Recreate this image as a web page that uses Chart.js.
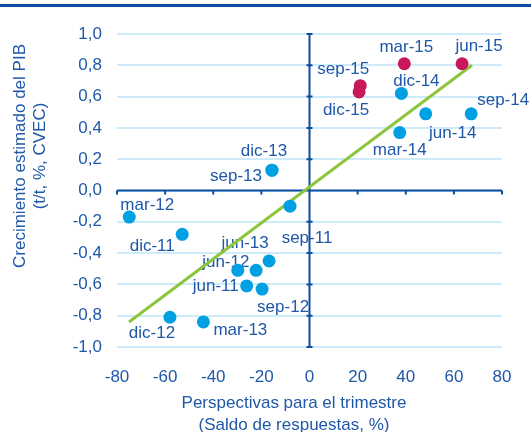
<!DOCTYPE html>
<html>
<head>
<meta charset="utf-8">
<script src="https://cdn.jsdelivr.net/npm/chart.js@4.4.0/dist/chart.umd.min.js"></script>
<style>
body { margin: 0; background: #fff; }
#wrap { position: relative; width: 531px; height: 432px; }
#topline { position: absolute; left: 0; top: 4px; width: 531px; height: 3px; background: #0b4ea2; }
</style>
</head>
<body>
<div id="wrap">
  <canvas id="chart" width="531" height="432"></canvas>
  <div id="topline"></div>
</div>
<script>
// data
var blueNames = ['jun-11', 'sep-11', 'dic-11', 'mar-12', 'jun-12', 'sep-12', 'dic-12', 'mar-13', 'jun-13', 'sep-13', 'dic-13', 'mar-14', 'jun-14', 'sep-14', 'dic-14', ''];
var blueX = [-26.1, -8.1, -52.9, -74.9, -29.8, -19.7, -58.0, -44.1, -16.8, -15.6, -15.6, 37.5, 48.3, 67.2, 38.2, -22.2];
var blueY = [-0.61, -0.10, -0.28, -0.17, -0.51, -0.63, -0.81, -0.84, -0.45, 0.13, 0.13, 0.37, 0.49, 0.49, 0.62, -0.51];
var redNames = ['mar-15', 'jun-15', 'sep-15', 'dic-15'];
var redX = [39.4, 63.4, 21.1, 20.6];
var redY = [0.81, 0.81, 0.67, 0.63];
var trendX = [-75, 67.5];
var trendY = [-0.84, 0.80];

var xTitle = ['Perspectivas para el trimestre', '(Saldo de respuestas, %)'];
var yTitle = ['Crecimiento estimado del PIB', '(t/t, %, CVEC)'];

// label offsets in px from the point (style only)
var labelOffset = {
    'jun-11': [-31, 0], 'sep-11': [17, 32], 'dic-11': [-30, 12], 'mar-12': [18, -12],
    'jun-12': [-12, -8], 'sep-12': [21, 18], 'dic-12': [-18, 16], 'mar-13': [37, 8],
    'jun-13': [-24, -18], 'sep-13': [-36, 6], 'dic-13': [-8, -19], 'mar-14': [0, 18],
    'jun-14': [27, 19], 'sep-14': [32, -14], 'dic-14': [15, -12], 'mar-15': [2, -16],
    'jun-15': [17, -17], 'sep-15': [-17, -16], 'dic-15': [-13, 18]
};

var textColor = '#1f58a8';
var axisColor = '#0d4da1';
var fontFamily = 'Arial, "Liberation Sans", sans-serif';
var fontSize = 17;

function toPoints(xs, ys) {
    return xs.map(function (x, i) { return { x: x, y: ys[i] }; });
}

// axes through zero with small tick marks
var zeroAxes = {
    id: 'zeroAxes',
    beforeDatasetsDraw: function (chart) {
        var ctx = chart.ctx, a = chart.chartArea;
        var xs = chart.scales.x, ys = chart.scales.y;
        var x0 = xs.getPixelForValue(0), y0 = ys.getPixelForValue(0);
        ctx.save();
        ctx.strokeStyle = axisColor;
        ctx.lineWidth = 2;
        ctx.beginPath();
        ctx.moveTo(x0, a.top); ctx.lineTo(x0, a.bottom);
        ctx.moveTo(a.left, y0); ctx.lineTo(a.right, y0);
        xs.ticks.forEach(function (t) {
            var px = xs.getPixelForValue(t.value);
            ctx.moveTo(px, y0); ctx.lineTo(px, y0 + 4);
        });
        ys.ticks.forEach(function (t) {
            var py = ys.getPixelForValue(t.value);
            ctx.moveTo(x0 - 3, py); ctx.lineTo(x0 + 3, py);
        });
        ctx.stroke();

        // point labels
        ctx.fillStyle = textColor;
        ctx.font = fontSize + 'px ' + fontFamily;
        ctx.textAlign = 'center';
        ctx.textBaseline = 'middle';
        [0, 1].forEach(function (di) {
            var names = di === 0 ? blueNames : redNames;
            chart.getDatasetMeta(di).data.forEach(function (el, i) {
                var n = names[i];
                if (!n) return;
                var o = labelOffset[n];
                ctx.fillText(n, el.x + o[0], el.y + o[1]);
            });
        });
        ctx.restore();
    },
    afterDraw: function (chart) {
        var ctx = chart.ctx;
        ctx.save();
        ctx.fillStyle = textColor;
        ctx.font = fontSize + 'px ' + fontFamily;
        ctx.textAlign = 'center';
        ctx.textBaseline = 'middle';
        ctx.fillText(xTitle[0], 294, 403);
        ctx.fillText(xTitle[1], 294, 425);
        ctx.translate(20, 156);
        ctx.rotate(-Math.PI / 2);
        ctx.fillText(yTitle[0], 0, 0);
        ctx.fillText(yTitle[1], 0, 20);
        ctx.restore();
    }
};

new Chart(document.getElementById('chart'), {
    type: 'scatter',
    data: {
        datasets: [{
            data: toPoints(blueX, blueY),
            backgroundColor: '#00a0e3',
            borderWidth: 0,
            pointRadius: 6.5
        }, {
            data: toPoints(redX, redY),
            backgroundColor: '#c8175b',
            borderWidth: 0,
            pointRadius: 6.5
        }, {
            type: 'line',
            data: toPoints(trendX, trendY),
            borderColor: '#8cc63f',
            borderWidth: 3,
            pointRadius: 0,
            fill: false
        }]
    },
    options: {
        responsive: false,
        animation: false,
        layout: { padding: { top: 34, right: 29, left: 0, bottom: 0 } },
        plugins: { legend: { display: false }, tooltip: { enabled: false } },
        scales: {
            x: {
                type: 'linear',
                min: -80, max: 80,
                border: { display: false },
                grid: { display: false },
                ticks: {
                    stepSize: 20,
                    padding: 12,
                    color: textColor,
                    font: { family: fontFamily, size: fontSize }
                },
                afterFit: function (s) { s.height = 85; }
            },
            y: {
                min: -1, max: 1,
                border: { display: false },
                grid: { color: '#cdebf8', lineWidth: 2, drawTicks: false },
                ticks: {
                    stepSize: 0.2,
                    padding: 15,
                    color: textColor,
                    font: { family: fontFamily, size: fontSize },
                    callback: function (v) { return v.toFixed(1).replace('.', ','); }
                },
                afterFit: function (s) { s.width = 117; }
            }
        }
    },
    plugins: [zeroAxes]
});
</script>
</body>
</html>
